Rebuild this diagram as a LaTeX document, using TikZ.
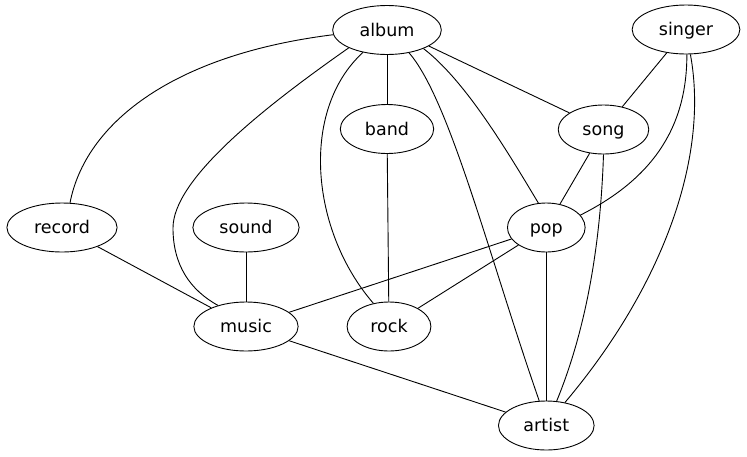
\documentclass[tikz,border=0pt]{standalone}
\usepackage{fontspec}
\setmainfont{DejaVu Sans}
\usetikzlibrary{shapes.geometric}

\begin{document}
\begin{tikzpicture}[
  x=1pt,y=-1pt,
  term/.style={draw=black,ellipse,line width=.9pt,inner xsep=11pt,inner ysep=0pt,
    minimum height=49pt,text height=14.3pt,text depth=2.2pt,
    font=\fontsize{17.5}{20}\selectfont},
  link/.style={draw=black,line width=.9pt}
]
\useasboundingbox (0,0) rectangle (747,456);

% Rank 1 and 2: the top terms.
\node[term] (album) at (387,30) {album};
\node[term] (singer) at (686,29.5) {singer};
\node[term] (band) at (387,129) {band};
\node[term] (song) at (603.5,129.5) {song};

% Rank 3 to 5.
\node[term] (record) at (62,227.5) {record};
\node[term] (sound) at (246,227.5) {sound};
\node[term] (pop) at (546.3,227.5) {pop};
\node[term] (music) at (246,326.5) {music};
\node[term] (rock) at (389,326.5) {rock};
\node[term] (artist) at (546.3,425.5) {artist};

% Curved edges out of album and singer.
\draw[link] (album.185) .. controls (170,55) and (85,125) .. (record.72);
\draw[link] (album.205) .. controls (260,110) and (173,180) .. (173,228)
  .. controls (173,265) and (190,290) .. (music.143);
\draw[link] (album.223) .. controls (300,110) and (310,230) .. (rock.124);
\draw[link] (album.314) .. controls (450,100) and (490,260) .. (artist.106);
\draw[link] (album.333) .. controls (463,79) and (502,142) .. (pop.108);
\draw[link] (album.339) -- (song.154);
\draw[link] (singer.272) .. controls (687,130) and (650,180) .. (pop.20);
\draw[link] (singer.280) .. controls (710,160) and (660,290) .. (artist.51);
\draw[link] (song.270) .. controls (601,230) and (590,320) .. (artist.67);

% Straight edges.
\draw[link] (album) -- (band);
\draw[link] (singer) -- (song);
\draw[link] (band) -- (rock);
\draw[link] (song) -- (pop);
\draw[link] (record) -- (music);
\draw[link] (sound) -- (music);
\draw[link] (pop) -- (music);
\draw[link] (pop) -- (rock);
\draw[link] (pop) -- (artist);
\draw[link] (music) -- (artist);
\end{tikzpicture}
\end{document}
